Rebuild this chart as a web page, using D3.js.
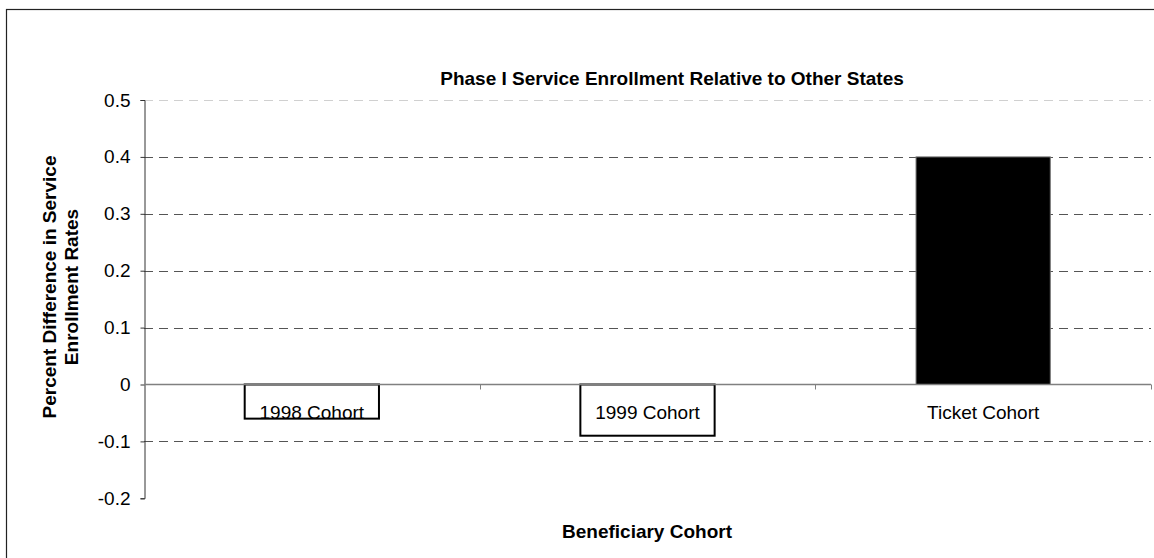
<!DOCTYPE html>
<html>
<head>
<meta charset="utf-8">
<script src="https://cdn.jsdelivr.net/npm/d3@7"></script>
<style>
  html, body { margin: 0; padding: 0; background: #fff; }
  svg { display: block; }
  text { font-family: Arial, "Liberation Sans", sans-serif; fill: #000; }
</style>
</head>
<body>
<svg id="chart" width="1154" height="558"></svg>
<script>
const categories = ["1998 Cohort", "1999 Cohort", "Ticket Cohort"];
const values = [-0.06, -0.09, 0.40];
const fills = ["#ffffff", "#ffffff", "#000000"];
const yTicks = [0.5, 0.4, 0.3, 0.2, 0.1, 0, -0.1, -0.2];
const yTickLabels = ["0.5", "0.4", "0.3", "0.2", "0.1", "0", "-0.1", "-0.2"];
const gridTicks = [0.5, 0.4, 0.3, 0.2, 0.1, -0.1];
const titleText = "Phase I Service Enrollment Relative to Other States";
const xTitle = "Beneficiary Cohort";
const yTitleLines = ["Percent Difference in Service", "Enrollment Rates"];

const svg = d3.select("#chart");
const plot = { left: 144, right: 1151, top: 100, bottom: 498.3 };

// outer border
svg.append("rect")
  .attr("x", 6.5).attr("y", 9.5).attr("width", 1200).attr("height", 600)
  .attr("fill", "none").attr("stroke", "#222").attr("stroke-width", 1.2);

const y = d3.scaleLinear().domain([-0.2, 0.5]).range([plot.bottom, plot.top]);
const x = d3.scaleBand().domain(categories).range([plot.left, plot.right])
  .paddingInner(0.6).paddingOuter(0.3);

// gridlines
svg.append("g").selectAll("line").data(gridTicks).join("line")
  .attr("x1", plot.left).attr("x2", plot.right)
  .attr("y1", d => Math.round(y(d)) + 0.5).attr("y2", d => Math.round(y(d)) + 0.5)
  .attr("stroke", d => d === 0.5 ? "#d0d0d0" : "#555")
  .attr("stroke-width", 1)
  .attr("stroke-dasharray", "9,6");

// y axis
const yAxis = d3.axisLeft(y).tickValues(yTicks).tickSize(4).tickPadding(10)
  .tickFormat((d, i) => yTickLabels[i]);
const yg = svg.append("g").attr("transform", `translate(${plot.left + 0.5},0)`).call(yAxis);
yg.select(".domain").attr("stroke", "#333");
yg.selectAll(".tick line").attr("stroke", "#333");
yg.selectAll(".tick text").attr("font-size", "19px").attr("font-family", "Arial, 'Liberation Sans', sans-serif").attr("fill", "#000");

// bars
svg.append("g").selectAll("rect").data(categories).join("rect")
  .attr("x", d => x(d))
  .attr("width", x.bandwidth())
  .attr("y", (d, i) => y(Math.max(0, values[i])))
  .attr("height", (d, i) => Math.abs(y(values[i]) - y(0)))
  .attr("fill", (d, i) => fills[i])
  .attr("stroke", (d, i) => values[i] < 0 ? "#000" : "#777")
  .attr("stroke-width", (d, i) => values[i] < 0 ? 2 : 1);

// zero axis line with tick marks between categories
const zeroY = Math.round(y(0)) + 0.5;
svg.append("line")
  .attr("x1", plot.left).attr("x2", plot.right)
  .attr("y1", zeroY).attr("y2", zeroY)
  .attr("stroke", "#808080").attr("stroke-width", 1.3);
const boundaries = categories.slice(1).map(c => x(c) - x.step() * x.paddingInner() / 2);
boundaries.push(plot.right);
svg.append("g").selectAll("line").data(boundaries).join("line")
  .attr("x1", d => Math.round(d) + 0.5).attr("x2", d => Math.round(d) + 0.5)
  .attr("y1", zeroY).attr("y2", zeroY + 5)
  .attr("stroke", "#808080");

// category labels
svg.append("g").selectAll("text").data(categories).join("text")
  .attr("x", d => x(d) + x.bandwidth() / 2)
  .attr("y", y(0) + 34)
  .attr("text-anchor", "middle")
  .attr("font-size", "19px")
  .text(d => d);

// title
svg.append("text")
  .attr("x", 672).attr("y", 85)
  .attr("text-anchor", "middle")
  .attr("font-size", "19px").attr("font-weight", "bold")
  .text(titleText);

// x title
svg.append("text")
  .attr("x", 647).attr("y", 538)
  .attr("text-anchor", "middle")
  .attr("font-size", "19px").attr("font-weight", "bold")
  .text(xTitle);

// y title
const yt = svg.append("text")
  .attr("transform", "translate(0,287) rotate(-90)")
  .attr("text-anchor", "middle")
  .attr("font-size", "19px").attr("font-weight", "bold");
yTitleLines.forEach((t, i) => {
  yt.append("tspan").attr("x", 0).attr("y", 56 + i * 22).text(t);
});
</script>
</body>
</html>
